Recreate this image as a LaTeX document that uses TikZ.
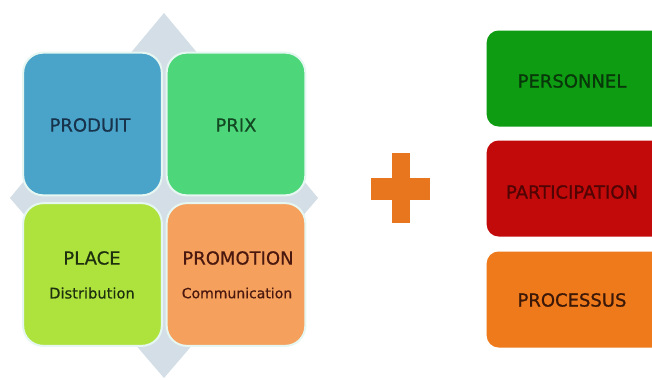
\documentclass[tikz,border=0pt]{standalone}
\usepackage{fontspec}
\setmainfont{DejaVu Sans}
\newfontfamily\medfont[FakeBold=0.5]{DejaVu Sans}
\newfontfamily\heavyfont[FakeBold=0.9]{DejaVu Sans}
\definecolor{dia}{HTML}{D3DEE6}
\definecolor{cblue}{HTML}{4AA3C9}
\definecolor{cgreen}{HTML}{4DD67A}
\definecolor{clime}{HTML}{AEE33E}
\definecolor{corange}{HTML}{F5A05C}
\definecolor{rgreen}{HTML}{0E9C12}
\definecolor{rred}{HTML}{C30A0A}
\definecolor{rorange}{HTML}{EE7A1C}
\definecolor{plus}{HTML}{E8761E}
\definecolor{rim}{HTML}{E6F7F2}
\definecolor{tblue}{HTML}{17324A}
\definecolor{tgreen}{HTML}{124822}
\definecolor{tlime}{HTML}{1E300E}
\definecolor{torange}{HTML}{4A180E}
\definecolor{tpers}{HTML}{08380A}
\definecolor{tpart}{HTML}{500404}
\definecolor{tproc}{HTML}{3C1808}
\tikzset{
  quad/.style={draw=rim, line width=1.5pt, rounded corners=15pt, minimum width=104pt, minimum height=107pt, inner sep=0pt},
  rbox/.style={rounded corners=9pt, minimum width=140pt, minimum height=72pt, inner sep=0pt},
  big/.style={font=\medfont\fontsize{13.5}{16}\selectfont},
  heavy/.style={font=\heavyfont\fontsize{13.5}{16}\selectfont},
  small/.style={font=\medfont\fontsize{11}{13}\selectfont},
}
\begin{document}
\begin{tikzpicture}[x=0.75pt,y=-0.75pt]
\useasboundingbox (0,0) rectangle (652,379);
\fill[white] (0,0) rectangle (652,379);
% background diamond
\fill[dia] (164,13) -- (318,198) -- (164,378) -- (10,198) -- cycle;
% four quadrant boxes
\node[quad, fill=cblue] (produit) at (92.5,124) {};
\node[quad, fill=cgreen] (prix) at (236,124) {};
\node[quad, fill=clime] (place) at (92.5,274.5) {};
\node[quad, fill=corange] (promo) at (236,274.5) {};
\node[big, text=tblue] (tproduit) at (90,125) {PRODUIT};
\node[big, text=tgreen] (tprix) at (236,125) {PRIX};
\node[big, text=tlime] (tplace) at (92,258) {PLACE};
\node[small, text=tlime] (tdist) at (92,293) {Distribution};
\node[big, text=torange] (tpromo) at (238,258) {PROMOTION};
\node[font=\medfont\fontsize{10.5}{13}\selectfont, text=torange] (tcomm) at (237,293) {Communication};
% plus sign
\fill[plus] (392,153) rectangle (410,223);
\fill[plus] (371,178) rectangle (430,200);
% right boxes
\node[rbox, fill=rgreen] (personnel) at (580,78.5) {};
\node[rbox, fill=rred] (particip) at (580,188.5) {};
\node[rbox, fill=rorange] (processus) at (580,299.5) {};
\node[heavy, text=tpers] (tpersonnel) at (572,81) {PERSONNEL};
\node[heavy, text=tpart] (tparticip) at (572,192) {PARTICIPATION};
\node[heavy, text=tproc] (tprocessus) at (572,300) {PROCESSUS};
\end{tikzpicture}
\end{document}
